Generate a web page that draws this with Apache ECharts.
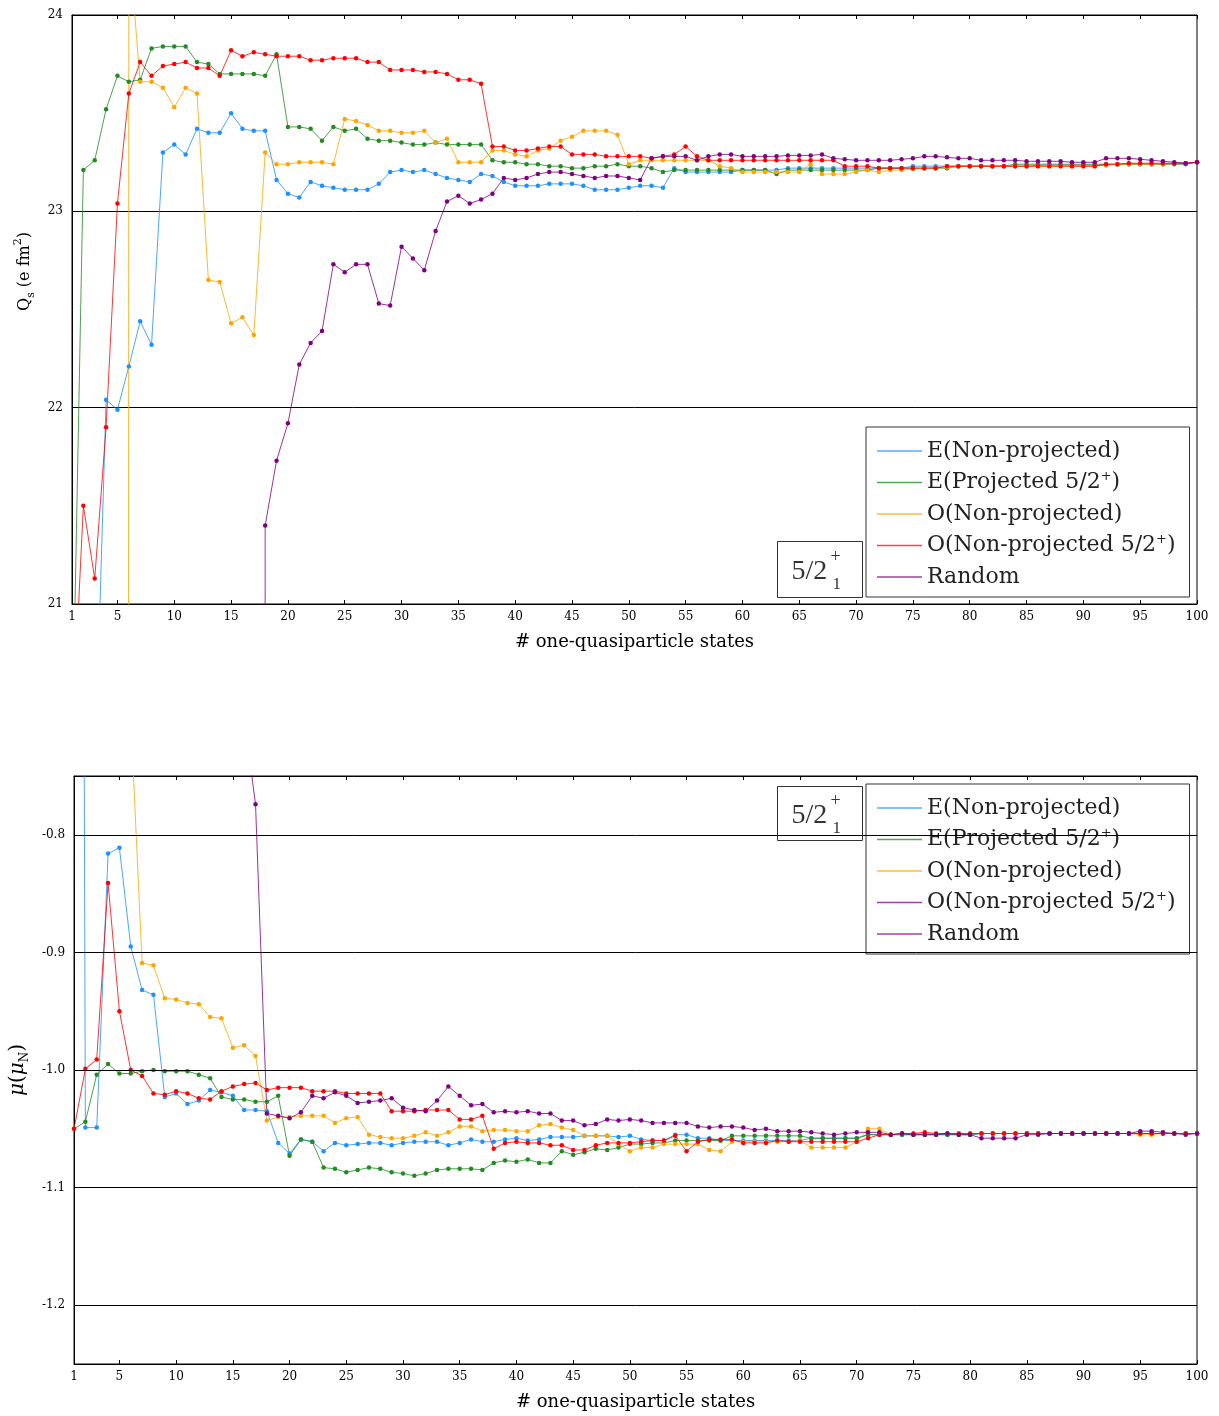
<!DOCTYPE html>
<html><head><meta charset="utf-8">
<script src="https://cdn.jsdelivr.net/npm/echarts@6/dist/echarts.min.js"></script>
<style>html,body{margin:0;padding:0;background:#fff}#c{width:1219px;height:1416px}</style>
</head><body><div id="c"></div>
<script>
// ---------- data ----------
const states = Array.from({length: 100}, (_, k) => k + 1);
const xTickValues = [1,5,10,15,20,25,30,35,40,45,50,55,60,65,70,75,80,85,90,95,100];
const qGridValues = [21,22,23,24];
const muTickValues = [-1.2,-1.1,-1.0,-0.9,-0.8];
const seriesNames = ['E(Non-projected)','E(Projected 5/2+)','O(Non-projected)','O(Non-projected 5/2+)','Random'];
const seriesColors = ['#1E90FF','#228B22','#FFA500','#FF0000','#800080'];
const muLegendColors = ['#1E90FF','#228B22','#FFA500','#800080','#800080'];

// Q_s (e fm^2)
const qENonProj = [19.0,19.5,20.1,22.04,21.99,22.21,22.44,22.32,23.30,23.34,
 23.29,23.42,23.40,23.40,23.50,23.42,23.41,23.41,23.16,23.09,
 23.07,23.15,23.13,23.12,23.11,23.11,23.11,23.14,23.20,23.21,
 23.20,23.21,23.19,23.17,23.16,23.15,23.19,23.18,23.15,23.13,
 23.13,23.13,23.14,23.14,23.14,23.13,23.11,23.11,23.11,23.12,
 23.13,23.13,23.12,23.22,23.20,23.20,23.20,23.20,23.20,23.21,
 23.21,23.21,23.21,23.22,23.22,23.22,23.22,23.22,23.22,23.22,
 23.22,23.22,23.22,23.22,23.23,23.23,23.23,23.23,23.23,23.23,
 23.23,23.23,23.23,23.23,23.23,23.235,23.235,23.235,23.235,23.235,
 23.235,23.235,23.24,23.24,23.24,23.24,23.24,23.245,23.245,23.25];
const qEProj = [20.2,23.21,23.26,23.52,23.69,23.66,23.67,23.83,23.84,23.84,
 23.84,23.76,23.75,23.70,23.70,23.70,23.70,23.69,23.80,23.43,
 23.43,23.42,23.36,23.43,23.41,23.42,23.37,23.36,23.36,23.35,
 23.34,23.34,23.35,23.34,23.34,23.34,23.34,23.26,23.25,23.25,
 23.24,23.24,23.23,23.23,23.22,23.22,23.23,23.23,23.24,23.23,
 23.23,23.22,23.20,23.21,23.21,23.21,23.21,23.21,23.21,23.21,
 23.21,23.21,23.19,23.21,23.21,23.21,23.21,23.21,23.21,23.21,
 23.21,23.22,23.22,23.22,23.22,23.22,23.22,23.22,23.23,23.23,
 23.23,23.23,23.23,23.24,23.24,23.24,23.24,23.24,23.24,23.24,
 23.24,23.24,23.24,23.24,23.24,23.24,23.24,23.24,23.24,23.25];
const qONonProj = [null,null,null,null,-100,24.38,23.66,23.66,23.63,23.53,
 23.63,23.60,22.65,22.64,22.43,22.46,22.37,23.30,23.24,23.24,
 23.25,23.25,23.25,23.24,23.47,23.46,23.44,23.41,23.41,23.40,
 23.40,23.41,23.35,23.37,23.25,23.25,23.25,23.31,23.31,23.29,
 23.28,23.31,23.32,23.36,23.38,23.41,23.41,23.41,23.39,23.24,
 23.26,23.26,23.26,23.26,23.26,23.26,23.26,23.23,23.22,23.20,
 23.20,23.20,23.20,23.20,23.20,23.24,23.19,23.19,23.19,23.20,
 23.21,23.20,23.21,23.21,23.215,23.22,23.22,23.225,23.23,23.23,
 23.23,23.23,23.23,23.23,23.23,23.23,23.23,23.23,23.23,23.23,
 23.23,23.235,23.24,23.24,23.24,23.24,23.24,23.245,23.245,23.25];
const qOProj = [20.3,21.50,21.13,21.90,23.04,23.60,23.76,23.69,23.74,23.75,
 23.76,23.73,23.73,23.69,23.82,23.79,23.81,23.80,23.79,23.79,
 23.79,23.77,23.77,23.78,23.78,23.78,23.76,23.76,23.72,23.72,
 23.72,23.71,23.71,23.70,23.67,23.67,23.65,23.33,23.33,23.31,
 23.31,23.32,23.33,23.33,23.29,23.29,23.29,23.28,23.28,23.28,
 23.28,23.27,23.28,23.29,23.33,23.28,23.26,23.26,23.26,23.26,
 23.26,23.26,23.26,23.26,23.26,23.26,23.26,23.26,23.23,23.23,
 23.23,23.22,23.22,23.22,23.22,23.22,23.22,23.23,23.23,23.23,
 23.23,23.23,23.23,23.23,23.23,23.23,23.23,23.23,23.23,23.23,
 23.23,23.24,23.24,23.245,23.245,23.245,23.245,23.245,23.245,23.25];
const qRandom = [null,null,null,null,null,null,null,null,null,null,
 null,null,null,null,null,null,-100,21.40,21.73,21.92,
 22.22,22.33,22.39,22.73,22.69,22.73,22.73,22.53,22.52,22.82,
 22.76,22.70,22.90,23.05,23.08,23.04,23.06,23.09,23.17,23.16,
 23.17,23.19,23.20,23.20,23.19,23.18,23.17,23.18,23.18,23.17,
 23.16,23.27,23.28,23.28,23.28,23.26,23.28,23.29,23.29,23.28,
 23.28,23.28,23.28,23.285,23.285,23.285,23.29,23.27,23.265,23.26,
 23.26,23.26,23.26,23.265,23.27,23.28,23.28,23.275,23.27,23.27,
 23.26,23.26,23.26,23.26,23.255,23.255,23.255,23.255,23.25,23.25,
 23.25,23.27,23.27,23.27,23.265,23.26,23.255,23.25,23.245,23.25];

// mu (mu_N)
const muENonProj = [2.0,-1.049,-1.049,-0.816,-0.811,-0.895,-0.932,-0.936,-1.023,-1.020,
 -1.029,-1.026,-1.017,-1.019,-1.022,-1.034,-1.034,-1.035,-1.062,-1.071,
 -1.059,-1.061,-1.069,-1.062,-1.064,-1.063,-1.062,-1.062,-1.064,-1.062,
 -1.061,-1.061,-1.061,-1.064,-1.062,-1.059,-1.061,-1.061,-1.059,-1.058,
 -1.060,-1.059,-1.057,-1.057,-1.057,-1.056,-1.056,-1.056,-1.057,-1.056,
 -1.059,-1.060,-1.060,-1.055,-1.055,-1.058,-1.058,-1.060,-1.060,-1.060,
 -1.060,-1.060,-1.060,-1.060,-1.060,-1.058,-1.058,-1.058,-1.058,-1.058,
 -1.055,-1.055,-1.055,-1.055,-1.055,-1.055,-1.055,-1.055,-1.055,-1.055,
 -1.054,-1.054,-1.054,-1.054,-1.054,-1.054,-1.054,-1.054,-1.054,-1.054,
 -1.054,-1.054,-1.054,-1.054,-1.054,-1.054,-1.054,-1.054,-1.054,-1.054];
const muEProj = [-1.050,-1.044,-1.004,-0.995,-1.003,-1.003,-1.001,-1.000,-1.001,-1.001,
 -1.001,-1.004,-1.007,-1.023,-1.025,-1.025,-1.027,-1.027,-1.022,-1.073,
 -1.059,-1.061,-1.083,-1.084,-1.087,-1.085,-1.083,-1.084,-1.087,-1.088,
 -1.090,-1.088,-1.085,-1.084,-1.084,-1.084,-1.085,-1.079,-1.077,-1.078,
 -1.076,-1.079,-1.079,-1.069,-1.072,-1.070,-1.067,-1.068,-1.066,-1.063,
 -1.063,-1.062,-1.062,-1.060,-1.060,-1.060,-1.060,-1.060,-1.056,-1.056,
 -1.056,-1.056,-1.056,-1.056,-1.056,-1.058,-1.058,-1.058,-1.058,-1.058,
 -1.055,-1.055,-1.055,-1.055,-1.055,-1.055,-1.055,-1.055,-1.055,-1.055,
 -1.054,-1.054,-1.054,-1.054,-1.054,-1.054,-1.054,-1.054,-1.054,-1.054,
 -1.054,-1.054,-1.054,-1.054,-1.054,-1.054,-1.054,-1.054,-1.054,-1.054];
const muONonProj = [null,null,null,null,null,-0.70,-0.909,-0.911,-0.939,-0.940,
 -0.943,-0.944,-0.955,-0.956,-0.981,-0.979,-0.988,-1.043,-1.040,-1.040,
 -1.039,-1.039,-1.039,-1.045,-1.041,-1.040,-1.055,-1.057,-1.058,-1.058,
 -1.056,-1.053,-1.056,-1.053,-1.048,-1.048,-1.052,-1.051,-1.051,-1.052,
 -1.052,-1.047,-1.046,-1.049,-1.051,-1.056,-1.056,-1.056,-1.063,-1.069,
 -1.066,-1.066,-1.063,-1.063,-1.063,-1.063,-1.068,-1.069,-1.061,-1.061,
 -1.061,-1.061,-1.061,-1.061,-1.060,-1.066,-1.066,-1.066,-1.066,-1.061,
 -1.050,-1.050,-1.055,-1.054,-1.054,-1.054,-1.054,-1.054,-1.054,-1.054,
 -1.054,-1.054,-1.054,-1.054,-1.054,-1.054,-1.054,-1.054,-1.054,-1.054,
 -1.054,-1.054,-1.054,-1.054,-1.055,-1.055,-1.054,-1.054,-1.054,-1.054];
const muOProj = [-1.050,-0.999,-0.991,-0.841,-0.950,-1.000,-1.005,-1.020,-1.021,-1.018,
 -1.020,-1.024,-1.025,-1.018,-1.014,-1.012,-1.011,-1.017,-1.015,-1.015,
 -1.015,-1.018,-1.018,-1.018,-1.020,-1.020,-1.020,-1.020,-1.035,-1.035,
 -1.035,-1.034,-1.034,-1.034,-1.042,-1.042,-1.039,-1.067,-1.062,-1.061,
 -1.062,-1.062,-1.064,-1.064,-1.068,-1.068,-1.064,-1.062,-1.062,-1.062,
 -1.061,-1.060,-1.060,-1.056,-1.069,-1.061,-1.059,-1.059,-1.059,-1.062,
 -1.062,-1.062,-1.060,-1.061,-1.061,-1.061,-1.061,-1.061,-1.061,-1.061,
 -1.058,-1.055,-1.055,-1.054,-1.054,-1.053,-1.054,-1.054,-1.054,-1.054,
 -1.054,-1.054,-1.054,-1.054,-1.054,-1.054,-1.054,-1.054,-1.054,-1.054,
 -1.054,-1.054,-1.054,-1.054,-1.054,-1.054,-1.054,-1.054,-1.054,-1.054];
const muRandom = [null,null,null,null,null,null,null,null,null,null,
 null,null,null,null,null,-0.70,-0.774,-1.037,-1.039,-1.041,
 -1.036,-1.022,-1.024,-1.019,-1.022,-1.028,-1.027,-1.026,-1.024,-1.032,
 -1.034,-1.035,-1.026,-1.014,-1.022,-1.030,-1.029,-1.036,-1.035,-1.036,
 -1.035,-1.037,-1.037,-1.043,-1.043,-1.047,-1.046,-1.042,-1.043,-1.042,
 -1.043,-1.045,-1.045,-1.045,-1.045,-1.048,-1.049,-1.048,-1.048,-1.049,
 -1.051,-1.050,-1.052,-1.052,-1.052,-1.053,-1.054,-1.055,-1.054,-1.053,
 -1.053,-1.053,-1.055,-1.054,-1.055,-1.055,-1.055,-1.054,-1.055,-1.055,
 -1.058,-1.058,-1.058,-1.058,-1.055,-1.055,-1.054,-1.054,-1.054,-1.054,
 -1.054,-1.054,-1.054,-1.054,-1.052,-1.052,-1.053,-1.054,-1.055,-1.054];

// ---------- chart ----------
const SERIF = '"DejaVu Serif", "Liberation Serif", serif';
const LSERIF = '"Liberation Serif", "DejaVu Serif", serif';
const qSets = [qENonProj, qEProj, qONonProj, qOProj, qRandom];
const muSets = [muENonProj, muEProj, muONonProj, muOProj, muRandom];

function mkSeries(name, values, color, gridIdx) {
  return {
    name: name, type: 'line',
    xAxisIndex: gridIdx * 2, yAxisIndex: gridIdx,
    data: states.map((x, k) => [x, values[k]]),
    symbol: 'circle', symbolSize: 4.5, showSymbol: true, showAllSymbol: true,
    clip: true, connectNulls: false,
    lineStyle: {width: 1, color: color, opacity: 0.8},
    itemStyle: {color: color},
    emphasis: {disabled: true}, silent: true, animation: false
  };
}

const series = [];
qSets.forEach((v, i) => series.push(mkSeries(seriesNames[i], v, seriesColors[i], 0)));
muSets.forEach((v, i) => series.push(mkSeries(seriesNames[i], v, seriesColors[i], 1)));
// horizontal reference lines of the lower panel
series[5].markLine = {
  silent: true, symbol: ['none', 'none'], label: {show: false}, animation: false,
  lineStyle: {color: '#000', width: 1, type: 'solid', opacity: 1},
  emphasis: {disabled: true},
  data: muTickValues.map(v => ({yAxis: v}))
};

function xAxes(gridIdx) {
  const common = {
    type: 'value', gridIndex: gridIdx, min: 1, max: 100,
    axisLine: {show: true, lineStyle: {color: '#000', width: 1}},
    axisTick: {show: true, inside: true, length: 4, customValues: xTickValues, lineStyle: {color: '#000'}},
    splitLine: {show: false}
  };
  return [
    Object.assign({}, common, {
      position: 'bottom',
      axisLabel: {show: true, customValues: xTickValues, fontFamily: SERIF, fontSize: 12, color: '#000', margin: 7},
      name: '# one-quasiparticle states', nameLocation: 'middle', nameGap: 29,
      nameTextStyle: {fontFamily: SERIF, fontSize: 18, color: '#000'}
    }),
    Object.assign({}, common, {position: 'top', axisLabel: {show: false}})
  ];
}

const legendRich = {
  sup: {fontFamily: SERIF, fontSize: 13, lineHeight: 13, verticalAlign: 'top', color: '#222'}
};
function legendFmt(name) { return name.replace('5/2+', '5/2{sup|+}'); }

function boxGraphic(top, h) {
  return {
    type: 'group', left: 777, top: top, children: [
      {type: 'rect', shape: {x: 0, y: 0, width: 85, height: h}, style: {fill: '#fff', stroke: '#333', lineWidth: 1}},
      {type: 'text', x: 14, y: h / 2 + 2, style: {text: '5/2', font: '28px ' + LSERIF, fill: '#333', textAlign: 'left', textVerticalAlign: 'middle', align: 'left', verticalAlign: 'middle'}},
      {type: 'text', x: 53, y: h / 2 - 12, style: {text: '+', font: '18px ' + LSERIF, fill: '#333', textAlign: 'left', textVerticalAlign: 'middle', align: 'left', verticalAlign: 'middle'}},
      {type: 'text', x: 55, y: h / 2 + 15, style: {text: '1', font: '17px ' + LSERIF, fill: '#333', textAlign: 'left', textVerticalAlign: 'middle', align: 'left', verticalAlign: 'middle'}}
    ]
  };
}

const option = {
  animation: false,
  backgroundColor: '#fff',
  grid: [
    {left: 72, top: 15, width: 1125, height: 589, show: true, borderColor: '#000', borderWidth: 1, backgroundColor: 'transparent'},
    {left: 72, top: 776, width: 1125, height: 588, show: true, borderColor: '#000', borderWidth: 1, backgroundColor: 'transparent'}
  ],
  xAxis: xAxes(0).concat(xAxes(1)),
  yAxis: [
    {
      type: 'value', gridIndex: 0, min: qGridValues[0], max: qGridValues[qGridValues.length - 1], interval: 1,
      axisLine: {show: true, lineStyle: {color: '#000'}},
      axisTick: {show: false},
      axisLabel: {fontFamily: SERIF, fontSize: 12, color: '#000', margin: 9},
      splitLine: {show: true, lineStyle: {color: '#000', width: 1}},
      name: '{n|Q}{sub|s}{n| (e fm}{sup|2}{n|)}', nameLocation: 'middle', nameGap: 32,
      nameTextStyle: {
        padding: [0, 0, 0, 76],
        rich: {
          n: {fontFamily: SERIF, fontSize: 16, lineHeight: 24, color: '#000'},
          sub: {fontFamily: SERIF, fontSize: 11, lineHeight: 11, verticalAlign: 'bottom', color: '#000'},
          sup: {fontFamily: SERIF, fontSize: 11, lineHeight: 11, verticalAlign: 'top', color: '#000'}
        }
      }
    },
    {
      type: 'value', gridIndex: 1, min: -1.25, max: -0.75,
      axisLine: {show: true, lineStyle: {color: '#000'}},
      axisTick: {show: false},
      axisLabel: {customValues: muTickValues, formatter: v => v.toFixed(1), fontFamily: SERIF, fontSize: 12, color: '#000', margin: 9},
      splitLine: {show: false},
      name: '{i|μ}{n|(}{i|μ}{sub|N}{n|)}', nameLocation: 'middle', nameGap: 38,
      nameTextStyle: {
        rich: {
          n: {fontFamily: SERIF, fontSize: 20, lineHeight: 26, color: '#000'},
          i: {fontFamily: SERIF, fontSize: 20, fontStyle: 'italic', lineHeight: 26, color: '#000'},
          sub: {fontFamily: SERIF, fontSize: 12, lineHeight: 12, verticalAlign: 'bottom', color: '#000'}
        }
      }
    }
  ],
  legend: [
    {
      left: 866, top: 427, orient: 'vertical', selectedMode: false,
      data: seriesNames.map(n => ({name: n})),
      icon: 'rect', itemWidth: 45, itemHeight: 1.5, itemGap: 7.5,
      padding: [12, 14, 8, 11], borderColor: '#333', borderWidth: 1, backgroundColor: '#fff',
      itemStyle: {opacity: 0.75},
      formatter: legendFmt,
      textStyle: {fontFamily: SERIF, fontSize: 22, lineHeight: 24, color: '#222', rich: legendRich}
    },
    {
      left: 866, top: 784, orient: 'vertical', selectedMode: false,
      data: seriesNames.map((n, i) => ({name: n, itemStyle: {color: muLegendColors[i], opacity: 0.75}})),
      icon: 'rect', itemWidth: 45, itemHeight: 1.5, itemGap: 7.5,
      padding: [12, 14, 8, 11], borderColor: '#333', borderWidth: 1, backgroundColor: '#fff',
      formatter: legendFmt,
      textStyle: {fontFamily: SERIF, fontSize: 22, lineHeight: 24, color: '#222', rich: legendRich}
    }
  ],
  graphic: [boxGraphic(541, 56), boxGraphic(786, 54)],
  series: series
};

const chart = echarts.init(document.getElementById('c'), null, {renderer: 'canvas'});
chart.setOption(option);
</script>
</body></html>
